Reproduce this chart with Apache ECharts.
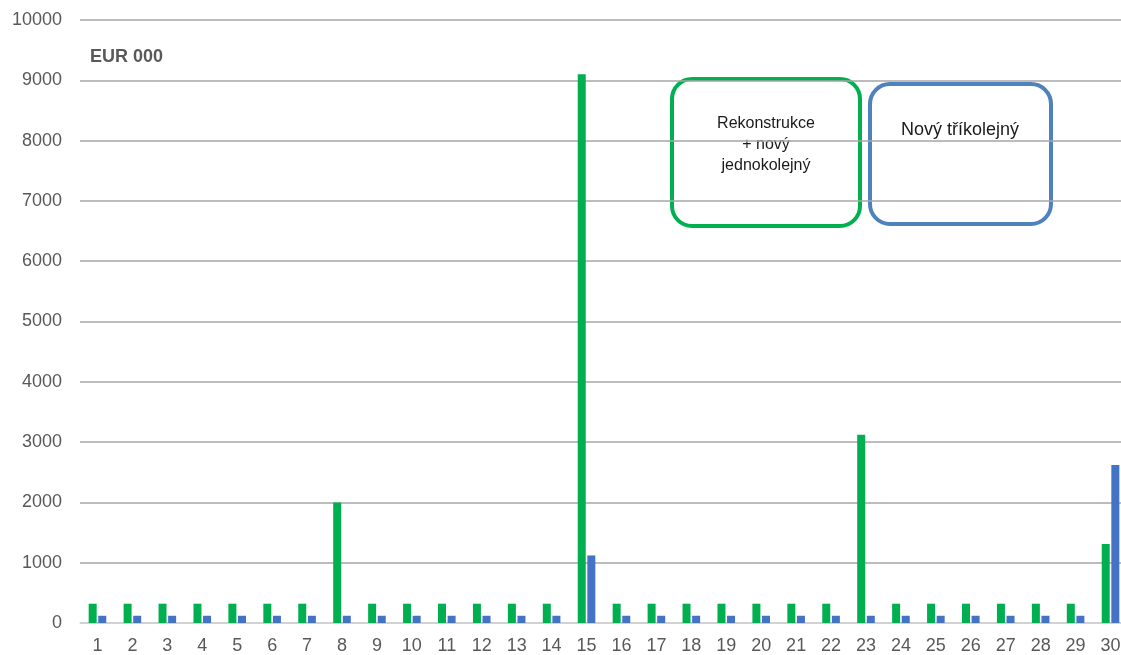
<!DOCTYPE html>
<html>
<head>
<meta charset="utf-8">
<script src="https://cdn.jsdelivr.net/npm/echarts@6/dist/echarts.min.js"></script>
<style>
  html, body { margin: 0; padding: 0; background: #fff; overflow: hidden; }
  #chart { width: 1121px; height: 655px; }
</style>
</head>
<body>
<div id="chart"></div>
<script>
// Categories 1..30 and costs (EUR 000) for the two variants
const categories = ['1','2','3','4','5','6','7','8','9','10','11','12','13','14','15',
                    '16','17','18','19','20','21','22','23','24','25','26','27','28','29','30'];
const rekonstrukce = [320,320,320,320,320,320,320,2000,320,320,320,320,320,320,9100,
                      320,320,320,320,320,320,320,3120,320,320,320,320,320,320,1310];
const novyTrikolejny = [120,120,120,120,120,120,120,120,120,120,120,120,120,120,1120,
                        120,120,120,120,120,120,120,120,120,120,120,120,120,120,2620];
const seriesNames = ['Rekonstrukce + nový jednokolejný', 'Nový tříkolejný'];
const unitLabel = 'EUR 000';

const GREEN = '#00b050';
const BLUE = '#4472c4';
const FONT = '"Liberation Sans", Arial, sans-serif';

const chart = echarts.init(document.getElementById('chart'));
chart.setOption({
  animation: false,
  grid: { left: 80, right: -7, top: 20, bottom: 32, outerBoundsMode: 'none', containLabel: false },
  xAxis: {
    type: 'category',
    data: categories,
    boundaryGap: true,
    axisLine: { lineStyle: { color: '#d9d9d9', width: 1.5 } },
    axisTick: { show: false },
    axisLabel: { color: '#595959', fontSize: 18, fontFamily: FONT, margin: 14, interval: 0 }
  },
  yAxis: {
    type: 'value',
    min: 0,
    max: 10000,
    interval: 1000,
    axisLine: { show: false },
    axisTick: { show: false },
    axisLabel: { color: '#595959', fontSize: 18, fontFamily: FONT, margin: 18,
                 formatter: v => String(v) },
    splitLine: { lineStyle: { color: '#a6a6a6', width: 1.5 } }
  },
  series: [
    { name: seriesNames[0], type: 'bar', data: rekonstrukce, barWidth: 8, barGap: '20%',
      itemStyle: { color: GREEN } },
    { name: seriesNames[1], type: 'bar', data: novyTrikolejny, barWidth: 8, barGap: '20%',
      itemStyle: { color: BLUE } }
  ],
  graphic: [
    { type: 'text', left: 90, top: 48,
      style: { text: unitLabel, fill: '#595959', font: 'bold 18px ' + FONT } },
    { type: 'rect', shape: { x: 672, y: 79, width: 188, height: 147, r: 20 },
      style: { fill: '#fff', stroke: GREEN, lineWidth: 4 } },
    { type: 'text', x: 766, y: 145,
      style: { text: 'Rekonstrukce\n+ nový\njednokolejný', fill: '#1a1a1a',
               font: '16px ' + FONT, align: 'center', verticalAlign: 'middle', lineHeight: 21 } },
    { type: 'rect', shape: { x: 870, y: 84, width: 181, height: 140, r: 20 },
      style: { fill: '#fff', stroke: '#4f81bd', lineWidth: 4 } },
    { type: 'text', x: 960, y: 130,
      style: { text: 'Nový tříkolejný', fill: '#1a1a1a',
               font: '18px ' + FONT, align: 'center', verticalAlign: 'middle' } }
  ]
});
</script>
</body>
</html>
